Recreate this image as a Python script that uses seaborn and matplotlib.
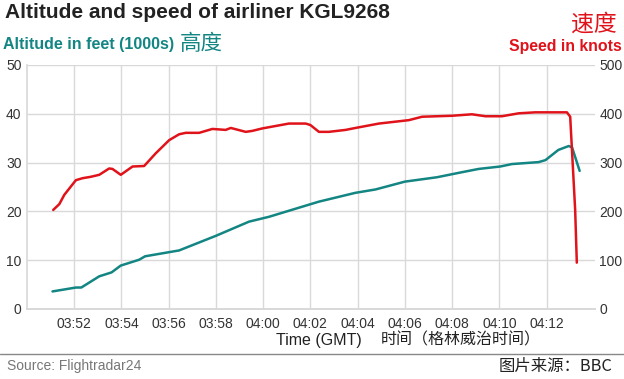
import matplotlib
matplotlib.use("Agg")
import matplotlib.pyplot as plt
import seaborn as sns
import pandas as pd
import numpy as np

# minutes after 03:50 GMT
alt_t = [1.08, 2.07, 2.3, 3.06, 3.58, 3.97, 4.75, 5.0, 6.44, 8.0, 9.4, 10.25, 12.36,
         13.9, 14.76, 16.0, 17.36, 18.28, 19.12, 20.04, 20.53, 21.66, 21.95, 22.5,
         22.94, 23.08, 23.4]
altitude = [3.6, 4.4, 4.4, 6.7, 7.5, 8.9, 10.1, 10.8, 12.0, 15.0, 17.9, 18.9, 22.0,
            23.8, 24.5, 26.1, 27.0, 27.9, 28.7, 29.2, 29.7, 30.1, 30.5, 32.6,
            33.4, 33.1, 28.3]

spd_t = [1.11, 1.37, 1.58, 2.07, 2.35, 2.71, 3.06, 3.48, 3.62, 3.97, 4.47, 4.96,
         5.45, 6.02, 6.44, 6.72, 7.29, 7.85, 8.41, 8.63, 9.26, 9.54, 9.96, 11.09,
         11.8, 12.0, 12.36, 12.78, 13.49, 13.91, 14.9, 16.17, 16.73, 18.0, 18.84,
         19.41, 20.11, 20.82, 21.52, 22.86, 23.0, 23.21, 23.28]
speed = [203, 215, 234, 264, 268, 271, 275, 288, 287, 275, 292, 293,
         319, 346, 358, 361, 361, 369, 367, 371, 363, 365, 370, 380,
         380, 377, 363, 363, 367, 371, 380, 387, 394, 396, 399,
         395, 395, 401, 403, 403, 394, 203, 95]

tick_pos = [2, 4, 6, 8, 10, 12, 14, 16, 18, 20, 22]
tick_labels = ["03:52", "03:54", "03:56", "03:58", "04:00", "04:02", "04:04",
               "04:06", "04:08", "04:10", "04:12"]

sns.set_theme(style="white")
plt.rcParams['font.family'] = ['Liberation Sans', 'Noto Sans CJK SC', 'DejaVu Sans']

TEAL = "#138583"
RED = "#e0121a"
GRID = "#d9d9d9"
TXT = "#333333"

fig = plt.figure(figsize=(6.24, 3.79), dpi=100)
ax = fig.add_axes([27/624, 1-309/379, (595-27)/624, (309-65)/379])
ax2 = ax.twinx()

alt_df = pd.DataFrame({"t": alt_t, "alt": altitude})
spd_df = pd.DataFrame({"t": spd_t, "spd": speed})
sns.lineplot(data=alt_df, x="t", y="alt", ax=ax, color=TEAL, lw=1.8)
sns.lineplot(data=spd_df, x="t", y="spd", ax=ax2, color=RED, lw=1.8)

ax.set_xlim(0, 24.05)
ax.set_ylim(0, 50)
ax2.set_ylim(0, 500)
ax.set_yticks([0, 10, 20, 30, 40, 50])
ax2.set_yticks([0, 100, 200, 300, 400, 500])
ax.set_xticks(tick_pos)
ax.set_xticklabels(tick_labels)
ax.grid(True, color=GRID, lw=1)
ax.set_axisbelow(True)
ax2.grid(False)
for a in (ax, ax2):
    a.set_xlabel("")
    a.set_ylabel("")
    for s in ("top", "right"):
        a.spines[s].set_visible(False)
    a.spines["left"].set_visible(False)
    a.spines["bottom"].set_color(GRID)
ax.spines["left"].set_visible(True)
ax.spines["left"].set_color(GRID)
ax.tick_params(axis="both", length=0, labelsize=10, colors=TXT, pad=6)
ax.tick_params(axis="y", pad=4)
ax2.tick_params(axis="y", length=0, labelsize=10, colors=TXT, pad=3)
for lbl in ax.get_yticklabels():
    lbl.set_horizontalalignment("right")

fig.text(5/624, 1-12/379, "Altitude and speed of airliner KGL9268", fontsize=15,
         fontweight="bold", color="#222222", va="center", ha="left")
fig.text(3/624, 1-45/379, "Altitude in feet (1000s)", fontsize=11.5, fontweight="bold",
         color=TEAL, va="center", ha="left")
fig.text(180/624, 1-44/379, "高度", fontsize=15.5, color=TEAL, va="center", ha="left",
         family=['Noto Sans CJK SC'])
fig.text(617/624, 1-24/379, "速度", fontsize=16.5, color=RED, va="center", ha="right",
         family=['Noto Sans CJK SC'])
fig.text(622/624, 1-46/379, "Speed in knots", fontsize=11.4, fontweight="bold",
         color=RED, va="center", ha="right")
fig.text(276/624, 1-340/379, "Time (GMT)", fontsize=11.5,
         color="#222222", va="center", ha="left")
fig.text(381/624, 1-340/379, "时间（格林威治时间）", fontsize=11.5,
         color="#222222", va="center", ha="left", family=['Noto Sans CJK SC'])
fig.add_artist(plt.Line2D([0, 1], [1-354/379, 1-354/379], color="#888888", lw=1))
fig.text(7/624, 1-366/379, "Source: Flightradar24", fontsize=10, color="#777777",
         va="center", ha="left")
fig.text(613/624, 1-366/379, "图片来源：BBC", fontsize=11.8, color="#222222",
         va="center", ha="right", family=['Noto Sans CJK SC', 'Liberation Sans'])

fig.savefig("out.png", dpi=100)
